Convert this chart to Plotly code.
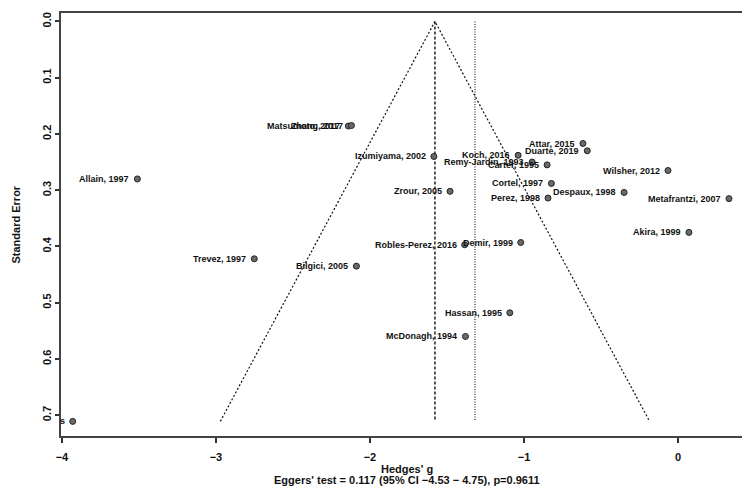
import plotly.graph_objects as go

# ---- data ----
studies = ["Matsumoto, 2017", "Zhang, 2017", "Allain, 1997", "Izumiyama, 2002",
           "Koch, 2016", "Remy-Jardin, 1993", "Carter, 1995", "Attar, 2015",
           "Duarte, 2019", "Wilsher, 2012", "Zrour, 2005", "Cortel, 1997",
           "Perez, 1998", "Despaux, 1998", "Metafrantzi, 2007", "Akira, 1999",
           "Robles-Perez, 2016", "Demir, 1999", "Trevez, 1997", "Bilgici, 2005",
           "Hassan, 1995", "McDonagh, 1994", "s"]
hedges_g = [-2.14, -2.12, -3.51, -1.585,
            -1.038, -0.947, -0.850, -0.617,
            -0.589, -0.065, -1.48, -0.822,
            -0.844, -0.350, 0.331, 0.071,
            -1.385, -1.021, -2.751, -2.088,
            -1.092, -1.38, -3.93]
std_err = [0.186, 0.185, 0.28, 0.24,
           0.238, 0.250, 0.255, 0.217,
           0.230, 0.265, 0.302, 0.288,
           0.314, 0.304, 0.315, 0.375,
           0.397, 0.393, 0.422, 0.435,
           0.518, 0.56, 0.711]

pooled = -1.578        # summary estimate (dashed line)
ref_line = -1.318      # dotted reference line
se_max = 0.711
z = 1.96

x_ticks = [-4, -3, -2, -1, 0]
y_ticks = [0.0, 0.1, 0.2, 0.3, 0.4, 0.5, 0.6, 0.7]

fig = go.Figure()

# funnel (pseudo-confidence region)
fig.add_trace(go.Scatter(
    x=[pooled - z * se_max, pooled, pooled + z * se_max],
    y=[se_max, 0, se_max],
    mode="lines", line=dict(color="#111", width=1.2, dash="2px,2px"),
    hoverinfo="skip", showlegend=False))
# pooled estimate
fig.add_trace(go.Scatter(
    x=[pooled, pooled], y=[0, se_max], mode="lines",
    line=dict(color="#111", width=1.4, dash="3px,2px"),
    hoverinfo="skip", showlegend=False))
# dotted line
fig.add_trace(go.Scatter(
    x=[ref_line, ref_line], y=[0, se_max], mode="lines",
    line=dict(color="#111", width=1.1, dash="1px,1.5px"),
    hoverinfo="skip", showlegend=False))

# studies
fig.add_trace(go.Scatter(
    x=hedges_g, y=std_err, mode="markers",
    marker=dict(size=6, color="#6a6a6a", line=dict(color="#222", width=1)),
    cliponaxis=True, showlegend=False, text=studies, hoverinfo="text"))

label_font = dict(family="Liberation Sans", size=9, color="#111", weight="bold")
axis_font = dict(family="Liberation Sans", size=11, color="#111", weight="bold")

annotations = [
    dict(x=gx, y=se, text=name, xref="x", yref="y", xanchor="right",
         yanchor="middle", xshift=-6, showarrow=False, font=label_font)
    for name, gx, se in zip(studies, hedges_g, std_err)
]
annotations += [
    dict(text="Hedges' g", xref="paper", yref="paper", x=0.5, y=0,
         xanchor="center", yanchor="middle", yshift=-33, showarrow=False,
         font=axis_font),
    dict(text="Eggers' test = 0.117 (95% CI −4.53 − 4.75), p=0.9611",
         xref="paper", yref="paper", x=0.5, y=0,
         xanchor="center", yanchor="middle", yshift=-44, showarrow=False,
         font=axis_font),
    dict(text="Standard Error", xref="paper", yref="paper", x=0, y=0.5,
         xanchor="center", yanchor="middle", xshift=-46, textangle=-90,
         showarrow=False, font=axis_font),
]

fig.update_layout(
    width=750, height=486,
    margin=dict(l=53, r=5, t=3, b=58),
    paper_bgcolor="white", plot_bgcolor="white",
    font=axis_font,
    xaxis=dict(range=[-4.006, 0.487], tickvals=x_ticks, ticks="outside",
               ticklen=5, tickwidth=1.5, tickcolor="#333",
               ticklabelstandoff=5,
               showline=True, linecolor="#444", linewidth=2, mirror=True,
               showgrid=False, zeroline=False, tickfont=axis_font),
    yaxis=dict(range=[0.737, -0.015], tickvals=y_ticks, tickformat=".1f",
               ticks="outside", ticklen=4, tickwidth=1.5, tickcolor="#333",
               tickangle=-90,
               showline=True, linecolor="#444", linewidth=2, mirror=True,
               showgrid=False, zeroline=False, tickfont=axis_font),
    annotations=annotations,
)

fig.write_html("out.html")
